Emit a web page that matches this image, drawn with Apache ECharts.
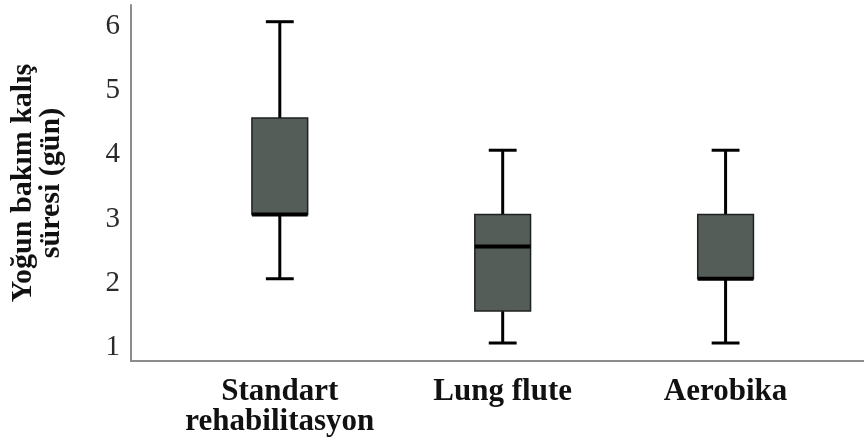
<!DOCTYPE html>
<html>
<head>
<meta charset="utf-8">
<script src="https://cdn.jsdelivr.net/npm/echarts@6/dist/echarts.min.js"></script>
<style>
html,body{margin:0;padding:0;background:#fff;}
#chart{width:864px;height:447px;}
</style>
</head>
<body>
<div id="chart"></div>
<script>
const categories = ['Standart\nrehabilitasyon', 'Lung flute', 'Aerobika'];
const whiskerLow = [2, 1, 1];
const q1Values = [3, 1.5, 2];
const medianValues = [3, 2.5, 2];
const q3Values = [4.5, 3, 3];
const whiskerHigh = [6, 4, 4];
const yTicks = [1, 2, 3, 4, 5, 6];
const yTitle = 'Yoğun bakım kalış\nsüresi (gün)';

const data = categories.map((c, i) => [i + 1, whiskerLow[i], q1Values[i], medianValues[i], q3Values[i], whiskerHigh[i]]);

const chart = echarts.init(document.getElementById('chart'));
const serif = "'Liberation Serif', 'Times New Roman', serif";

function renderItem(params, api) {
  const x = api.value(0);
  const lo = api.coord([x, api.value(1)]);
  const q1 = api.coord([x, api.value(2)]);
  const med = api.coord([x, api.value(3)]);
  const q3 = api.coord([x, api.value(4)]);
  const hi = api.coord([x, api.value(5)]);
  const band = api.size([1, 0])[0];
  const bw = band * 0.25;
  const cw = bw / 2;
  const cx = q1[0];
  const lineStyle = { stroke: '#000', lineWidth: 3 };
  return {
    type: 'group',
    children: [
      { type: 'line', shape: { x1: cx, y1: q3[1], x2: cx, y2: hi[1] }, style: lineStyle },
      { type: 'line', shape: { x1: cx, y1: q1[1], x2: cx, y2: lo[1] }, style: lineStyle },
      { type: 'line', shape: { x1: cx - cw / 2, y1: hi[1], x2: cx + cw / 2, y2: hi[1] }, style: lineStyle },
      { type: 'line', shape: { x1: cx - cw / 2, y1: lo[1], x2: cx + cw / 2, y2: lo[1] }, style: lineStyle },
      { type: 'rect', shape: { x: cx - bw / 2, y: q3[1], width: bw, height: q1[1] - q3[1] },
        style: { fill: '#545d57', stroke: '#1e221f', lineWidth: 1.5 } },
      { type: 'line', shape: { x1: cx - bw / 2, y1: med[1], x2: cx + bw / 2, y2: med[1] },
        style: { stroke: '#000', lineWidth: 4 } }
    ]
  };
}

chart.setOption({
  animation: false,
  backgroundColor: '#fff',
  grid: { left: 130, right: 0, top: 5, bottom: 86 },
  xAxis: {
    type: 'value',
    min: 0.3324,
    max: 3.621,
    splitLine: { show: false },
    axisTick: { show: false },
    axisLine: { show: true, lineStyle: { color: '#8c8c8c', width: 2 } },
    axisLabel: {
      customValues: [1, 2, 3],
      formatter: v => categories[Math.round(v) - 1] || '',
      fontFamily: serif, fontWeight: 'bold', fontSize: 31, lineHeight: 30,
      color: '#111', margin: 16
    }
  },
  yAxis: {
    type: 'value',
    min: 0.72,
    max: 6.26,
    splitLine: { show: false },
    axisTick: { show: false },
    axisLine: { show: true, lineStyle: { color: '#8c8c8c', width: 2 } },
    axisLabel: {
      customValues: yTicks,
      fontFamily: serif, fontSize: 29, color: '#2a2a2a', margin: 11,
      verticalAlign: 'top',
      lineHeight: 29,
      padding: [-10, 0, 0, 0]
    },
    name: yTitle,
    nameLocation: 'middle',
    nameRotate: 90,
    nameGap: 66,
    nameTextStyle: { fontFamily: serif, fontWeight: 'bold', fontSize: 30, lineHeight: 28, color: '#111' }
  },
  series: [{
    type: 'custom',
    renderItem: renderItem,
    encode: { x: 0, y: [1, 2, 3, 4, 5] },
    data: data
  }]
});
</script>
</body>
</html>
